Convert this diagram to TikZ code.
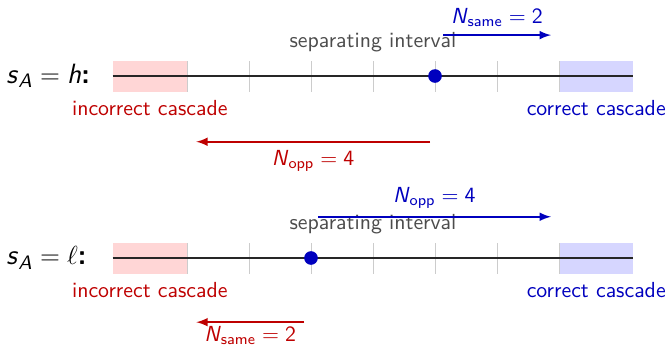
\documentclass[tikz,border=0pt]{standalone}
\usepackage{amsmath}
\usepackage{tikz}
\definecolor{cascred}{RGB}{190,0,0}
\definecolor{cascblue}{RGB}{0,0,190}
% sans slanted letters inside math
\newcommand{\slv}[1]{\text{\textsl{#1}}}

\begin{document}
\sffamily
\begin{tikzpicture}[
    axisline/.style={black!85, line width=1.2pt},
    gridtick/.style={black!20, thin},
    redarrow/.style={cascred, thick, -latex},
    bluearrow/.style={cascblue, thick, -latex},
    seplabel/.style={black!70},
    rowlabel/.style={anchor=west, inner sep=0pt, font=\fontsize{12.8}{15}\selectfont},
  ]
  \useasboundingbox (-2.016,-4.339) rectangle (8.79,1.226);
  % two rows: top s_A = h (y=0), bottom s_A = l (y=-2.935)
  \foreach \yy/\nm in {0/top,-2.935/bot} {
    % cascade regions
    \fill[red!16] (-0.2,\yy-0.25) rectangle (1,\yy+0.25);
    \fill[blue!16] (7,\yy-0.25) rectangle (8.2,\yy+0.25);
    % ticks
    \foreach \x in {1,...,7} {
      \draw[gridtick] (\x,\yy-0.25) -- (\x,\yy+0.25);
    }
    \draw[axisline] (-0.2,\yy) -- (8.2,\yy);
    \node[cascred] (\nm inc) at (0.4,\yy-0.52) {incorrect cascade};
    \node[cascblue] (\nm cor) at (7.6,\yy-0.52) {correct cascade};
    \node[seplabel] (\nm sep) at (4,\yy+0.55) {separating interval};
  }
  % row labels and dots
  \node[rowlabel] (toplbl) at (-1.92,0) {$\slv{s}_{\slv{A}} = \slv{h}$\textbf{:}};
  \node[rowlabel] (botlbl) at (-1.92,-2.935) {$\slv{s}_{\slv{A}} = \ell$\textbf{:}};
  \fill[cascblue] (5,0) circle (0.11);
  \fill[cascblue] (3,-2.935) circle (0.11);

  % arrows, top row
  \coordinate (topsameA) at (5.13,0.66);
  \coordinate (topsameB) at (6.87,0.66);
  \coordinate (topoppA) at (4.92,-1.06);
  \coordinate (topoppB) at (1.15,-1.06);
  \draw[bluearrow] (topsameA) -- (topsameB) node[midway,above] (topsame) {$\slv{N}_{\text{same}} = \text{2}$};
  \draw[redarrow] (topoppA) -- (topoppB) node[midway,below] (topopp) {$\slv{N}_{\text{opp}} = \text{4}$};

  % arrows, bottom row
  \coordinate (botoppA) at (3.11,-2.27);
  \coordinate (botoppB) at (6.87,-2.27);
  \coordinate (botsameA) at (2.89,-3.97);
  \coordinate (botsameB) at (1.15,-3.97);
  \draw[bluearrow] (botoppA) -- (botoppB) node[midway,above] (botopp) {$\slv{N}_{\text{opp}} = \text{4}$};
  \draw[redarrow] (botsameA) -- (botsameB) node[midway,below,inner sep=1.5pt] (botsame) {$\slv{N}_{\text{same}} = \text{2}$};
\end{tikzpicture}
\end{document}
